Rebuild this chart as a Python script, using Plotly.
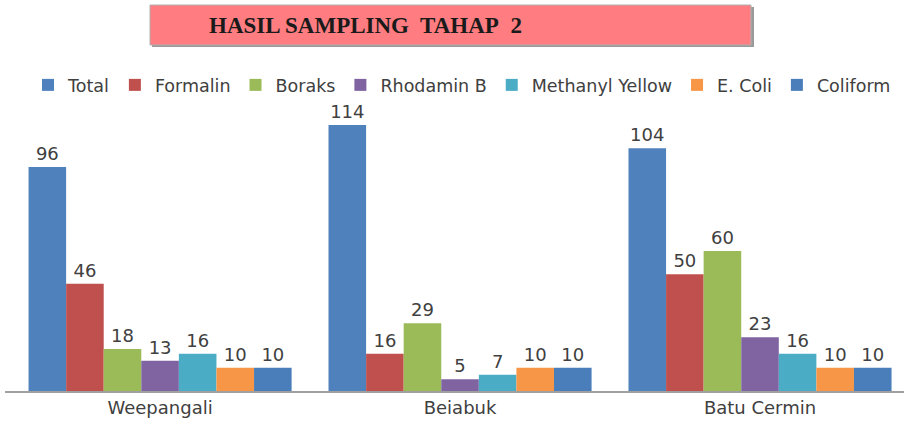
import plotly.graph_objects as go

categories = ["Weepangali", "Beiabuk", "Batu Cermin"]
series_names = ["Total", "Formalin", "Boraks", "Rhodamin B", "Methanyl Yellow", "E. Coli", "Coliform"]
total = [96, 114, 104]
formalin = [46, 16, 50]
boraks = [18, 29, 60]
rhodamin_b = [13, 5, 23]
methanyl_yellow = [16, 7, 16]
e_coli = [10, 10, 10]
coliform = [10, 10, 10]
series_values = [total, formalin, boraks, rhodamin_b, methanyl_yellow, e_coli, coliform]
colors = ["#4F81BD", "#C0504D", "#9BBB59", "#8064A2", "#4BACC6", "#F79646", "#4A7EBB"]

W, H = 904, 423
ML, MR, MT, MB = 5, 0, 111, 32
FONT = "DejaVu Sans, Open Sans, sans-serif"

fig = go.Figure()
for name, vals, col in zip(series_names, series_values, colors):
    fig.add_trace(go.Bar(
        name=name, x=categories, y=vals, marker=dict(color=col, line=dict(width=0)),
        text=vals, textposition="outside", cliponaxis=False,
        textfont=dict(family=FONT, size=18, color="#404040"),
    ))

def px_x(p):
    return (p - ML) / (W - ML - MR)

def px_y(p):
    return (H - MB - p) / (H - MT - MB)

# title box shadow and box
fig.add_shape(type="rect", xref="paper", yref="paper",
              x0=px_x(152), x1=px_x(754), y0=px_y(47), y1=px_y(7),
              fillcolor="#9a9a9a", line=dict(width=0), layer="below")
fig.add_shape(type="rect", xref="paper", yref="paper",
              x0=px_x(150), x1=px_x(751), y0=px_y(45), y1=px_y(5),
              fillcolor="#FF7C80", line=dict(color="#b0b0b0", width=1), layer="below")
fig.add_annotation(xref="paper", yref="paper", x=px_x(365), y=px_y(25),
                   text="<b>HASIL SAMPLING&nbsp; TAHAP&nbsp; 2</b>", showarrow=False,
                   font=dict(family="Liberation Serif, serif", size=23, color="#1a1a1a"),
                   xanchor="center", yanchor="middle")

fig.update_layout(
    width=W, height=H,
    margin=dict(l=ML, r=MR, t=MT, b=MB),
    paper_bgcolor="white", plot_bgcolor="white",
    barmode="group", bargap=0.123, bargroupgap=0,
    showlegend=True,
    legend=dict(orientation="h", x=px_x(28), y=px_y(85), xanchor="left", yanchor="middle",
                font=dict(family=FONT, size=17.5, color="#404040"),
                itemwidth=30, traceorder="normal", tracegroupgap=0),
    xaxis=dict(range=[-0.517, 2.48], showline=True, linecolor="#a0a0a0", linewidth=1.5,
               ticks="", showgrid=False,
               tickfont=dict(family=FONT, size=18, color="#404040")),
    yaxis=dict(range=[0, 120], visible=False, showgrid=False),
)

fig.write_html("out.html", config={"displayModeBar": False},
               post_script="document.body.style.margin='0px';")
